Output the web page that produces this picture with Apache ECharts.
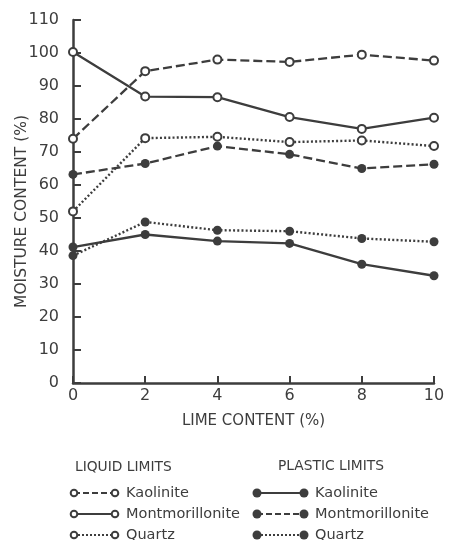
<!DOCTYPE html>
<html><head><meta charset="utf-8">
<script src="https://cdn.jsdelivr.net/npm/echarts@6/dist/echarts.min.js"></script>
<style>html,body{margin:0;padding:0;background:#fff}#c{width:454px;height:540px}</style>
</head><body><div id="c"></div>
<script>
var limeContent = [0, 2, 4, 6, 8, 10];
var liquidKaolinite = [74, 94.5, 98, 97.3, 99.5, 97.7];
var liquidMontmorillonite = [100.3, 86.8, 86.6, 80.6, 77, 80.4];
var liquidQuartz = [52, 74.2, 74.6, 73, 73.5, 71.8];
var plasticKaolinite = [41.2, 45, 43, 42.3, 36, 32.5];
var plasticMontmorillonite = [63.2, 66.5, 71.8, 69.3, 65, 66.3];
var plasticQuartz = [38.6, 48.8, 46.3, 46, 43.8, 42.8];
var yTicks = [0, 10, 20, 30, 40, 50, 60, 70, 80, 90, 100, 110];
var xTicks = [0, 2, 4, 6, 8, 10];
var legendLiquid = ['Kaolinite', 'Montmorillonite', 'Quartz'];
var legendPlastic = ['Kaolinite', 'Montmorillonite', 'Quartz'];

var INK = '#3d3d3d';
var FONT = 'DejaVu Sans';
function pairs(ys){ return limeContent.map(function(x,i){ return [x, ys[i]]; }); }
function mk(name, ys, type, filled){
  return {
    name: name, type: 'line', data: pairs(ys), symbol: 'circle',
    symbolSize: filled ? 9 : 8,
    lineStyle: {color: INK, width: type === 'dotted' ? 2.4 : 2.3, type: type === 'dashed' ? [9, 4] : (type === 'dotted' ? [2, 2.2] : 'solid')},
    itemStyle: {color: filled ? INK : '#fff', borderColor: INK, borderWidth: filled ? 0 : 2},
    emphasis: {disabled: true}, animation: false, z: filled ? 3 : 2
  };
}
var chart = echarts.init(document.getElementById('c'), null, {renderer: 'canvas'});

function legendRow(x0, x1, y, type, filled, label){
  var dash = type === 'dashed' ? [6, 3] : (type === 'dotted' ? [2, 2] : null);
  var els = [
    {type: 'line', shape: {x1: x0, y1: y, x2: x1, y2: y}, style: {stroke: INK, lineWidth: 2, lineDash: dash}},
    {type: 'circle', shape: {cx: x0, cy: y, r: filled ? 4.5 : 3.3}, style: {fill: filled ? INK : '#fff', stroke: INK, lineWidth: filled ? 0 : 2}},
    {type: 'circle', shape: {cx: x1, cy: y, r: filled ? 4.5 : 3.3}, style: {fill: filled ? INK : '#fff', stroke: INK, lineWidth: filled ? 0 : 2}},
    {type: 'text', x: x1 + 11, y: y, style: {text: label, fill: INK, font: '14.5px "' + FONT + '"', verticalAlign: 'middle'}}
  ];
  return els;
}
var graphics = [
  {type: 'text', x: 75, y: 467, style: {text: 'LIQUID LIMITS', fill: INK, font: '13.8px "' + FONT + '"', verticalAlign: 'middle'}},
  {type: 'text', x: 278, y: 466, style: {text: 'PLASTIC LIMITS', fill: INK, font: '13.8px "' + FONT + '"', verticalAlign: 'middle'}}
];
var types = ['dashed', 'solid', 'dotted'];
var ptypes = ['solid', 'dashed', 'dotted'];
var rows = [493, 514, 535];
for (var i = 0; i < 3; i++) {
  graphics = graphics.concat(legendRow(74, 115, rows[i], types[i], false, legendLiquid[i]));
  graphics = graphics.concat(legendRow(257, 304, rows[i], ptypes[i], true, legendPlastic[i]));
}

chart.setOption({
  backgroundColor: '#fff',
  animation: false,
  grid: {left: 73, right: 20, top: 20, bottom: 157, containLabel: false, outerBoundsMode: 'none'},
  xAxis: {
    type: 'value', min: 0, max: 10, interval: 2,
    name: 'LIME CONTENT (%)', nameLocation: 'middle', nameGap: 31, nameMoveOverlap: false,
    nameTextStyle: {color: INK, fontFamily: FONT, fontSize: 15},
    axisLine: {lineStyle: {color: INK, width: 2.5}},
    axisTick: {inside: true, length: 7, lineStyle: {color: INK, width: 2}},
    axisLabel: {color: INK, fontFamily: FONT, fontSize: 16, margin: 5,
      formatter: function(v){ return xTicks.indexOf(v) >= 0 ? String(v) : ''; }},
    splitLine: {show: false}
  },
  yAxis: {
    type: 'value', min: 0, max: 110, interval: 10,
    name: 'MOISTURE CONTENT (%)', nameLocation: 'middle', nameGap: 43, nameMoveOverlap: false,
    nameTextStyle: {color: INK, fontFamily: FONT, fontSize: 15.5, padding: [0, 20, 0, 0]},
    axisLine: {show: true, lineStyle: {color: INK, width: 2.5}},
    axisTick: {show: true, inside: true, length: 8, lineStyle: {color: INK, width: 2}},
    axisLabel: {color: INK, fontFamily: FONT, fontSize: 16, margin: 14,
      formatter: function(v){ return yTicks.indexOf(v) >= 0 ? String(v) : ''; }},
    splitLine: {show: false}
  },
  series: [
    mk('Liquid Kaolinite', liquidKaolinite, 'dashed', false),
    mk('Liquid Montmorillonite', liquidMontmorillonite, 'solid', false),
    mk('Liquid Quartz', liquidQuartz, 'dotted', false),
    mk('Plastic Kaolinite', plasticKaolinite, 'solid', true),
    mk('Plastic Montmorillonite', plasticMontmorillonite, 'dashed', true),
    mk('Plastic Quartz', plasticQuartz, 'dotted', true)
  ],
  graphic: graphics
});
</script></body></html>
